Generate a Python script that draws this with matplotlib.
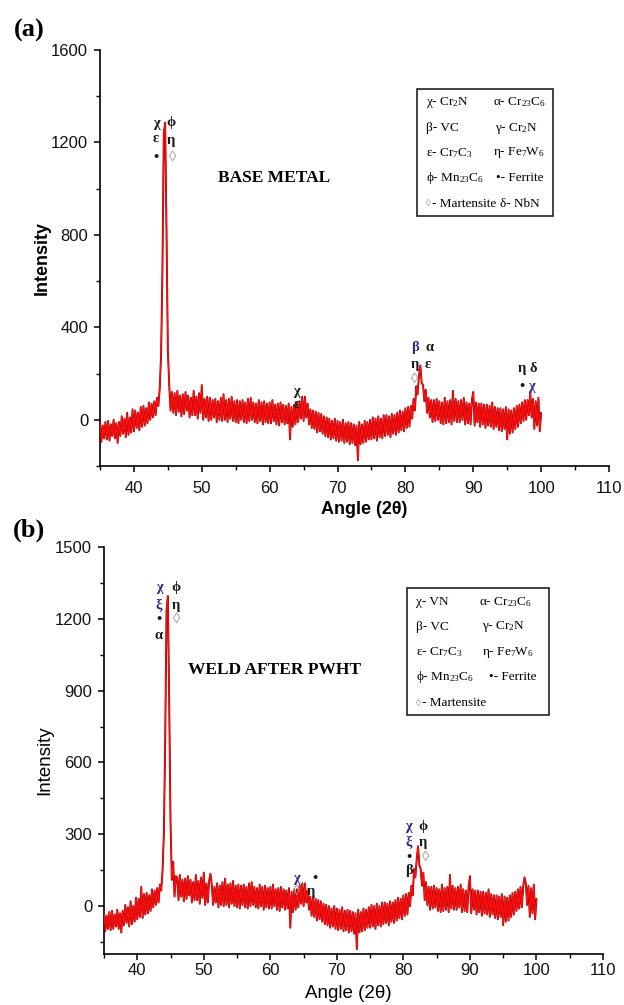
import numpy as np
import matplotlib
matplotlib.use("Agg")
import matplotlib.pyplot as plt
from matplotlib.patches import Rectangle
from matplotlib.ticker import MultipleLocator

plt.rcParams['mathtext.default'] = 'regular'

# ---------------- data ----------------
angle_start = 35.0
angle_step = 0.2

intensity_a = [
    -5, -95, -25, -80, -10,    # 35
    -85, -5, -90, -20, -70,    # 36
    0, -80, -15, -100, -10,    # 37
    -70, 15, -60, 5, -75,      # 38
    30, -65, 10, -55, 45,      # 39
    -50, 40, -35, 30, -45,     # 40
    55, -30, 60, -25, 50,      # 41
    -15, 75, 0, 70, 10,        # 42
    80, 20, 95, 60, 135,       # 43
    280, 650, 1240, 1285, 820, # 44
    300, 150, 40, 120, 30,     # 45
    115, 20, 125, 35, 105,     # 46
    15, 110, 25, 120, 40,      # 47
    105, 10, 95, 20, 125,      # 48
    20, 100, 5, 115, 30,       # 49
    150, 0, 90, 10, 100,       # 50
    -5, 95, 0, 85, 10,         # 51
    90, -10, 80, 0, 95,        # 52
    -5, 110, 0, 85, -10,       # 53
    90, 5, 100, -5, 80,        # 54
    -10, 85, -15, 80, 0,       # 55
    85, -10, 75, -15, 90,      # 56
    -5, 95, 0, 75, -10,        # 57
    70, -15, 85, -5, 75,       # 58
    -20, 80, -10, 70, -15,     # 59
    75, -15, 85, -5, 65,       # 60
    -20, 70, -25, 75, -10,     # 61
    65, -20, 60, -15, 70,      # 62
    -85, 55, -30, 65, -20,     # 63
    75, -10, 80, 5, 100,       # 64
    -5, 100, 10, 70, -20,      # 65
    45, -35, 40, -40, 35,      # 66
    -55, 30, -50, 25, -60,     # 67
    15, -70, 10, -75, 5,       # 68
    -85, -5, -80, 5, -90,      # 69
    -5, -95, -10, -90, 0,      # 70
    -100, -15, -95, -10, -105, # 71
    -15, -100, -20, -110, -25, # 72
    -175, -10, -105, -20, -100,# 73
    -5, -95, -10, -85, 0,      # 74
    -85, 10, -80, 5, -90,      # 75
    15, -75, 5, -80, 20,       # 76
    -70, 20, -65, 15, -75,     # 77
    25, -60, 20, -65, 30,      # 78
    -55, 40, -45, 35, -50,     # 79
    50, -35, 55, -30, 60,      # 80
    5, 90, 40, 145, 110,       # 81
    190, 235, 160, 150, 80,    # 82
    130, 30, 95, 10, 85,       # 83
    -10, 85, -5, 90, 0,        # 84
    80, -15, 75, -20, 95,      # 85
    -15, 80, -10, 85, -20,     # 86
    125, -5, 90, -10, 80,      # 87
    -10, 85, 0, 95, -20,       # 88
    75, -15, 70, -20, 85,      # 89
    120, -25, 75, -10, 70,     # 90
    -30, 70, -20, 65, -35,     # 91
    65, -25, 60, -30, 75,      # 92
    -40, 55, -30, 50, -45,     # 93
    50, -50, 45, -40, 55,      # 94
    -85, 45, -60, 40, -55,     # 95
    50, -40, 60, -30, 65,      # 96
    -15, 75, -5, 85, 0,        # 97
    85, 20, 120, 10, 90,       # 98
    -40, 80, -25, 95, -50,     # 99
    30,                        # 100
]

intensity_b = [
    -20, -105, -40, -95, -25,  # 35
    -100, -20, -95, -35, -85,  # 36
    -15, -95, -30, -110, -20,  # 37
    -80, 5, -70, -5, -85,      # 38
    20, -75, 0, -65, 35,       # 39
    -55, 30, -45, 80, -50,     # 40
    50, -35, 55, -30, 45,      # 41
    -20, 70, -5, 65, 5,        # 42
    75, 15, 90, 65, 150,       # 43
    300, 700, 1235, 1295, 850, # 44
    350, 110, 185, 40, 125,    # 45
    120, 25, 130, 40, 110,     # 46
    20, 115, 30, 125, 45,      # 47
    110, 15, 100, 25, 130,     # 48
    25, 105, 10, 120, 35,      # 49
    140, 5, 95, 15, 105,       # 50
    135, 90, 5, 80, 15,        # 51
    95, -5, 85, 5, 100,        # 52
    0, 115, 5, 90, -5,         # 53
    95, 10, 105, 0, 85,        # 54
    -5, 90, -10, 85, 5,        # 55
    90, -5, 80, -10, 95,       # 56
    0, 100, 5, 80, -5,         # 57
    75, -10, 90, 0, 80,        # 58
    -15, 85, -5, 75, -10,      # 59
    80, -10, 90, 0, 70,        # 60
    -15, 75, -20, 80, -5,      # 61
    70, -15, 65, -10, 75,      # 62
    -90, 60, -25, 70, -15,     # 63
    70, -5, 85, 10, 95,        # 64
    0, 95, 15, 65, -15,        # 65
    40, -40, 35, -45, 30,      # 66
    -60, 25, -55, 20, -65,     # 67
    10, -75, 5, -80, 0,        # 68
    -90, -10, -85, 0, -95,     # 69
    -10, -100, -15, -95, -5,   # 70
    -105, -20, -100, -15, -110,# 71
    -20, -105, -25, -115, -30, # 72
    -180, -15, -110, -25, -105,# 73
    -10, -100, -15, -90, -5,   # 74
    -90, 5, -85, 0, -95,       # 75
    10, -80, 0, -85, 15,       # 76
    -75, 15, -70, 10, -80,     # 77
    20, -65, 15, -70, 25,      # 78
    -60, 35, -50, 30, -55,     # 79
    45, -40, 50, -35, 55,      # 80
    0, 85, 45, 155, 120,       # 81
    195, 250, 170, 155, 85,    # 82
    140, 25, 100, 5, 80,       # 83
    -15, 80, -10, 85, -5,      # 84
    75, -20, 70, -25, 90,      # 85
    -20, 75, -15, 80, -25,     # 86
    130, -10, 85, -15, 75,     # 87
    -15, 80, -5, 90, -25,      # 88
    70, -20, 65, -25, 80,      # 89
    125, -30, 70, -15, 65,     # 90
    -35, 65, -25, 60, -40,     # 91
    60, -30, 55, -35, 70,      # 92
    -45, 50, -35, 45, -50,     # 93
    45, -55, 40, -45, 50,      # 94
    -80, 40, -65, 35, -60,     # 95
    45, -45, 55, -35, 60,      # 96
    -20, 70, -10, 80, -5,      # 97
    80, 120, 95, 5, 85,        # 98
    -45, 75, -30, 90, -55,     # 99
    30,                        # 100
]

xticks = [40, 50, 60, 70, 80, 90, 100, 110]
yticks_a = [0, 400, 800, 1200, 1600]
yticks_b = [0, 300, 600, 900, 1200, 1500]

title_a = "BASE METAL"
title_b = "WELD AFTER PWHT"

legend_a = [
    ("χ- Cr$_2$N", "α- Cr$_{23}$C$_6$"),
    ("β- VC", "γ- Cr$_2$N"),
    ("ε- Cr$_7$C$_3$", "η- Fe$_7$W$_6$"),
    ("ϕ- Mn$_{23}$C$_6$", "•- Ferrite"),
    ("◊- Martensite", "δ- NbN"),
]
legend_b = [
    ("χ- VN", "α- Cr$_{23}$C$_6$"),
    ("β- VC", "γ- Cr$_2$N"),
    ("ε- Cr$_7$C$_3$", "η- Fe$_7$W$_6$"),
    ("ϕ- Mn$_{23}$C$_6$", "•- Ferrite"),
    ("◊- Martensite", None),
]

DARK = '#1a1a1a'
BLUE = '#2b2b8c'
GREY = '#9a9a9a'
# (symbol, angle, intensity, colour)
peaks_a = [
    ("χ", 43.25, 1280, DARK), ("ε", 43.25, 1215, DARK), ("•", 43.25, 1136, DARK),
    ("ϕ", 45.45, 1285, DARK), ("η", 45.45, 1210, DARK), ("◊", 45.75, 1136, GREY),
    ("χ", 64.0, 121, DARK), ("ε", 64.0, 65, DARK),
    ("β", 81.4, 311, BLUE), ("α", 83.6, 311, DARK),
    ("η", 81.4, 238, DARK), ("ε", 83.3, 238, DARK), ("◊", 81.4, 175, GREY),
    ("η", 97.2, 220, DARK), ("δ", 98.8, 220, DARK),
    ("•", 97.2, 143, DARK), ("χ", 98.6, 143, BLUE),
]
peaks_b = [
    ("χ", 43.27, 1330, BLUE), ("ϕ", 45.83, 1330, DARK),
    ("ξ", 43.27, 1255, BLUE), ("η", 45.83, 1255, DARK),
    ("•", 43.27, 1196, DARK), ("◊", 45.97, 1196, GREY),
    ("α", 43.27, 1129, DARK),
    ("χ", 64.0, 117, BLUE), ("•", 66.7, 117, DARK),
    ("◊", 64.0, 59, GREY), ("η", 66.1, 59, DARK),
    ("χ", 80.8, 331, BLUE), ("ϕ", 83.0, 331, DARK),
    ("ξ", 80.8, 264, BLUE), ("η", 83.0, 264, DARK),
    ("•", 80.8, 201, DARK), ("◊", 83.3, 201, GREY),
    ("β", 80.8, 147, DARK),
]

# ---------------- figure ----------------
W, H = 624, 1005
fig = plt.figure(figsize=(W / 100, H / 100), dpi=100)


def fx(px):
    return px / W


def fy(py):
    return 1 - py / H


SERIF = ['Liberation Serif', 'DejaVu Serif']
SANS = ['Liberation Sans', 'DejaVu Sans']


def make_axes(rect, values, ylim, yticks, yminor, xpad, ypad):
    ax = fig.add_axes(rect)
    ang = angle_start + angle_step * np.arange(len(values))
    ax.plot(ang, values, color='#a00000', lw=1.4, zorder=2)
    ax.plot(ang, values, color='#ff1010', lw=0.8, zorder=3)
    ax.set_xlim(35, 110)
    ax.set_ylim(*ylim)
    ax.set_xticks(xticks)
    ax.xaxis.set_minor_locator(MultipleLocator(5))
    ax.set_yticks(yticks)
    ax.yaxis.set_minor_locator(MultipleLocator(yminor))
    for s in ['top', 'right']:
        ax.spines[s].set_visible(False)
    for s in ['left', 'bottom']:
        ax.spines[s].set_linewidth(1.2)
    ax.tick_params(which='major', direction='out', length=4.5, width=1.1,
                   labelsize=12)
    ax.tick_params(which='minor', direction='out', length=2.8, width=1.0)
    ax.tick_params(axis='x', which='major', pad=xpad)
    ax.tick_params(axis='y', which='major', pad=ypad)
    for lab in ax.get_xticklabels() + ax.get_yticklabels():
        lab.set_fontfamily(SANS)
        lab.set_color('#111111')
    return ax


ax_a = make_axes([fx(100), fy(466), fx(609) - fx(100), fy(50) - fy(466)],
                 intensity_a, (-200, 1600), yticks_a, 200, 6.5, 4)
ax_b = make_axes([fx(104), fy(954), fx(603) - fx(104), fy(547) - fy(954)],
                 intensity_b, (-200, 1500), yticks_b, 150, 2, 4)

for ax, peaks in [(ax_a, peaks_a), (ax_b, peaks_b)]:
    for sym, x, y, c in peaks:
        ax.text(x, y, sym, color=c, fontsize=10.5, fontweight='bold',
                family=SERIF, ha='center', va='center', zorder=5)

# panel tags and titles
fig.text(fx(29), fy(30), "(a)", fontsize=19, fontweight='bold', family=SERIF,
         ha='center', va='center')
fig.text(fx(29), fy(530), "(b)", fontsize=19, fontweight='bold', family=SERIF,
         ha='center', va='center')
fig.text(fx(218), fy(178), title_a, fontsize=12.5, fontweight='bold',
         family=SERIF, ha='left', va='center')
fig.text(fx(188), fy(670), title_b, fontsize=12.5, fontweight='bold',
         family=SERIF, ha='left', va='center')

# axis labels
fig.text(fx(42), fy(258), "Intensity", rotation=90, fontsize=13,
         fontweight='bold', family=SANS, ha='center', va='center')
fig.text(fx(364), fy(509), "Angle (2θ)", fontsize=13, fontweight='bold',
         family=SANS, ha='center', va='center')
fig.text(fx(45), fy(760), "Intensity", rotation=90, fontsize=13.5,
         family=SANS, ha='center', va='center')
fig.text(fx(348), fy(993), "Angle (2θ)", fontsize=13.5,
         family=SANS, ha='center', va='center')


def draw_legend(box, rows_y, left_x, right_x, entries):
    x0, y0, x1, y1 = box
    fig.add_artist(Rectangle((fx(x0), fy(y1)), fx(x1) - fx(x0),
                             fy(y0) - fy(y1), transform=fig.transFigure,
                             fill=False, edgecolor='#222222', lw=1.2))
    for (lt, rt), yy, rx in zip(entries, rows_y, right_x):
        for txt, xx in [(lt, left_x), (rt, rx)]:
            if txt is None:
                continue
            if txt.startswith("◊"):
                fig.text(fx(xx), fy(yy), "◊", fontsize=7, color=GREY,
                         family=SERIF, ha='left', va='center')
                fig.text(fx(xx + 6), fy(yy), txt[1:], fontsize=9.5,
                         family=SERIF, ha='left', va='center')
            else:
                fig.text(fx(xx), fy(yy), txt, fontsize=9.5, family=SERIF,
                         ha='left', va='center')


draw_legend((417, 89, 553, 216), [102, 128, 153, 178, 204], 426,
            [493, 495, 493, 496, 500], legend_a)
draw_legend((407, 588, 549, 715), [602, 627, 652, 677, 703], 416,
            [479, 482, 482, 489, 489], legend_b)

fig.savefig("out.png", dpi=100)
